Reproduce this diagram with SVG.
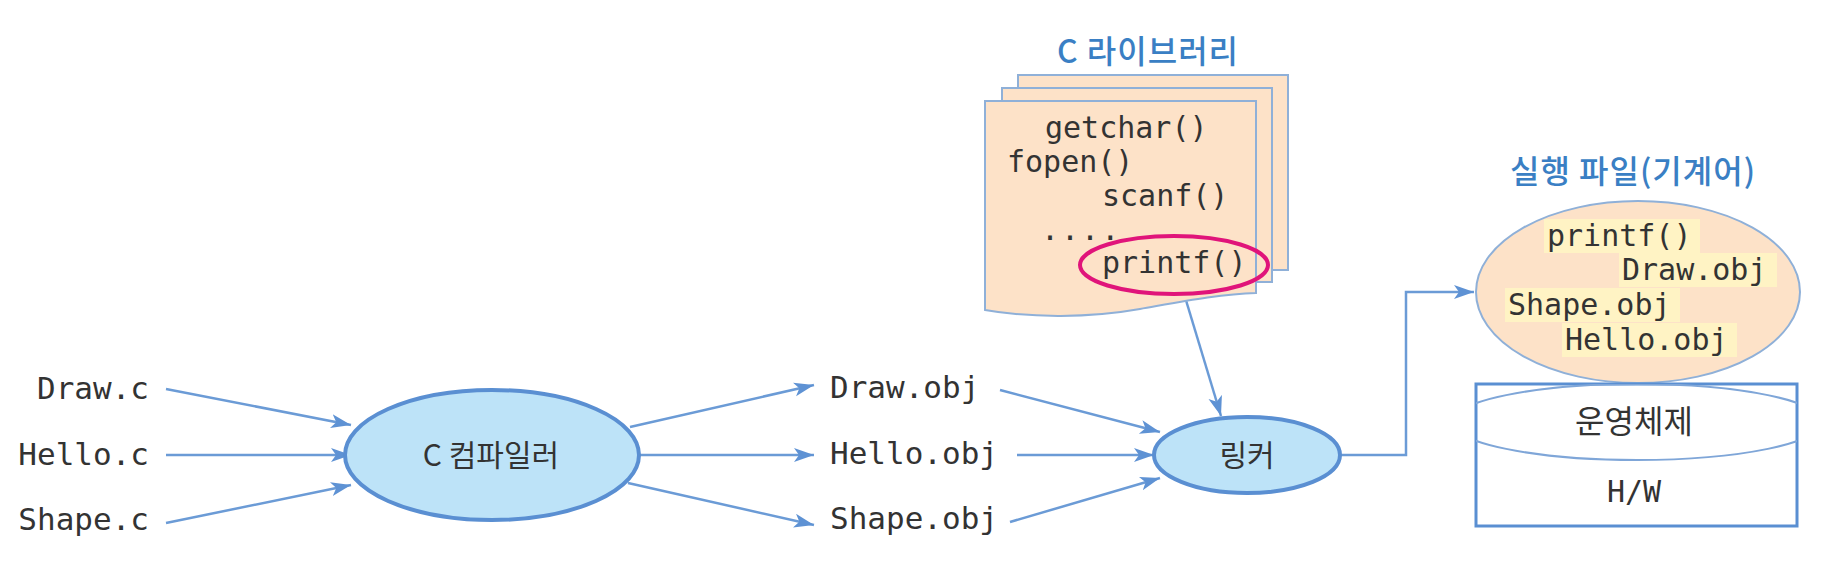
<svg xmlns="http://www.w3.org/2000/svg" width="1822" height="570" viewBox="0 0 1822 570">
<style>
.mono{font-family:"DejaVu Sans Mono","Liberation Mono",monospace;fill:#333;}
.kr{font-family:"Noto Sans CJK KR","Noto Sans",sans-serif;fill:#333;}
.title{font-family:"Noto Sans CJK KR","Noto Sans",sans-serif;fill:#3a7fc4;font-size:32px;font-weight:500;letter-spacing:1px;text-anchor:middle;}
.conn{stroke:#6b9bd6;stroke-width:2.5;fill:none;marker-end:url(#arr);}
.proc{fill:#bde3f8;stroke:#5a8fd2;stroke-width:4;}
.page{fill:#fde2c8;stroke:#8fb0d8;stroke-width:2;}
.hl{fill:#fff3c4;}
</style>
<defs>
<marker id="arr" markerUnits="userSpaceOnUse" markerWidth="22" markerHeight="16" refX="20" refY="7" orient="auto">
<path d="M0,0 L20,7 L0,14 L5,7 Z" fill="#5e92d4"/>
</marker>
<clipPath id="osclip"><rect x="1476" y="384" width="321" height="142"/></clipPath>
</defs>
<rect width="1822" height="570" fill="#fff"/>

<g id="connectors">
<line class="conn" x1="166" y1="389" x2="351" y2="425"/>
<line class="conn" x1="166" y1="455" x2="351" y2="455"/>
<line class="conn" x1="166" y1="523" x2="351" y2="485"/>
<line class="conn" x1="630" y1="427" x2="814" y2="385"/>
<line class="conn" x1="640" y1="455" x2="814" y2="455"/>
<line class="conn" x1="628" y1="483" x2="814" y2="525"/>
<line class="conn" x1="1000" y1="390" x2="1160" y2="432"/>
<line class="conn" x1="1017" y1="455" x2="1154" y2="455"/>
<line class="conn" x1="1010" y1="522" x2="1160" y2="478"/>
<line class="conn" x1="1185" y1="297" x2="1221" y2="416"/>
<path class="conn" d="M1340,455 H1406 V292 H1474"/>
</g>

<g id="src-draw"><text class="mono" x="149" y="399" font-size="31" text-anchor="end">Draw.c</text></g>
<g id="src-hello"><text class="mono" x="149" y="465" font-size="31" text-anchor="end">Hello.c</text></g>
<g id="src-shape"><text class="mono" x="149" y="530" font-size="31" text-anchor="end">Shape.c</text></g>

<g id="compiler">
<ellipse class="proc" cx="492" cy="455" rx="147" ry="65"/>
<text class="kr" x="491" y="466" font-size="30" text-anchor="middle">C 컴파일러</text>
</g>

<g id="obj-draw"><text class="mono" x="830" y="398" font-size="31">Draw.obj</text></g>
<g id="obj-hello"><text class="mono" x="830" y="464" font-size="31">Hello.obj</text></g>
<g id="obj-shape"><text class="mono" x="830" y="529" font-size="31">Shape.obj</text></g>

<g id="linker">
<ellipse class="proc" cx="1247" cy="455" rx="93" ry="38"/>
<text class="kr" x="1247" y="466" font-size="30" text-anchor="middle">링커</text>
</g>

<g id="library">
<text class="title" x="1148" y="63">C 라이브러리</text>
<rect class="page" x="1018" y="75" width="270" height="195"/>
<rect class="page" x="1002" y="88" width="270" height="194"/>
<path class="page" d="M985,101 H1256 V293 C1220,294 1180,302 1140,309 C1090,318 1030,318 985,310 Z"/>
<text class="mono" x="1045" y="138" font-size="30">getchar()</text>
<text class="mono" x="1007" y="172" font-size="30">fopen()</text>
<text class="mono" x="1102" y="206" font-size="30">scanf()</text>
<text class="mono" x="1041" y="240" font-size="30" letter-spacing="2">....</text>
<text class="mono" x="1102" y="273" font-size="30">printf()</text>
<ellipse cx="1174" cy="265" rx="94" ry="29" fill="none" stroke="#e0147a" stroke-width="4"/>
</g>

<g id="executable">
<text class="title" x="1633" y="183">실행 파일(기계어)</text>
<ellipse cx="1638" cy="292" rx="162" ry="91" fill="#fde2c8" stroke="#8fb0d8" stroke-width="2"/>
<rect class="hl" x="1544" y="219" width="156" height="34"/>
<rect class="hl" x="1619" y="253" width="158" height="34"/>
<rect class="hl" x="1505" y="288" width="175" height="34"/>
<rect class="hl" x="1562" y="323" width="175" height="34"/>
<text class="mono" x="1547" y="246" font-size="30">printf()</text>
<text class="mono" x="1622" y="280" font-size="30">Draw.obj</text>
<text class="mono" x="1508" y="315" font-size="30">Shape.obj</text>
<text class="mono" x="1565" y="350" font-size="30">Hello.obj</text>
</g>

<g id="os-hw">
<rect x="1476" y="384" width="321" height="142" fill="#fff" stroke="#5a8fd2" stroke-width="3"/>
<ellipse cx="1637" cy="422" rx="185" ry="38" fill="none" stroke="#7fa6d8" stroke-width="2" clip-path="url(#osclip)"/>
<text class="kr" x="1634" y="433" font-size="32" text-anchor="middle">운영체제</text>
<text class="mono" x="1634" y="502" font-size="30" text-anchor="middle">H/W</text>
</g>
</svg>
